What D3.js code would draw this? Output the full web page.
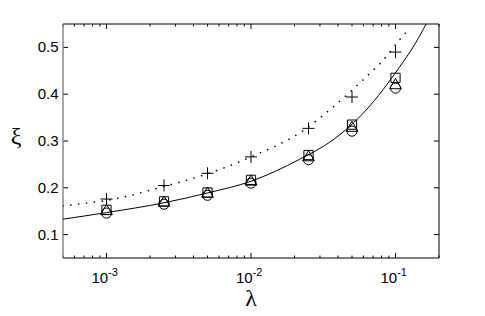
<!DOCTYPE html>
<html>
<head>
<meta charset="utf-8">
<script src="https://cdn.jsdelivr.net/npm/d3@7"></script>
<style>
  body { margin: 0; background: #fff; }
  text { font-family: "Liberation Sans", Arial, sans-serif; }
</style>
</head>
<body>
<div id="my_dataviz"></div>
<script>
// sample points
var lambdas = [1e-3, 2.5e-3, 5e-3, 1e-2, 2.5e-2, 5e-2, 1e-1];
var plusVals = [0.176, 0.205, 0.231, 0.266, 0.327, 0.394, 0.490];
var squareVals = [0.153, 0.171, 0.190, 0.217, 0.270, 0.335, 0.435];
var triangleVals = [0.150, 0.168, 0.187, 0.213, 0.265, 0.328, 0.419];
var circleVals = [0.146, 0.165, 0.184, 0.210, 0.260, 0.321, 0.413];

// curves
var solidX = [5e-4, 1e-3, 2.5e-3, 5e-3, 1e-2, 2.17e-2, 3.68e-2, 6.26e-2, 0.1066, 0.135, 0.163];
var solidY = [0.133, 0.147, 0.168, 0.189, 0.214, 0.261, 0.302, 0.366, 0.458, 0.505, 0.55];
var dotX = [5e-4, 7.08e-4, 1e-3, 2.5e-3, 5e-3, 1e-2, 2.29e-2, 3.68e-2, 6.26e-2, 8.17e-2, 0.1066, 0.125];
var dotY = [0.161, 0.167, 0.173, 0.203, 0.230, 0.266, 0.322, 0.372, 0.437, 0.472, 0.516, 0.540];

var yTicks = [0.1, 0.2, 0.3, 0.4, 0.5];
var xTicks = [1e-3, 1e-2, 1e-1];
var xTickExp = ["-3", "-2", "-1"];

var margin = {top: 24, right: 46, bottom: 58, left: 63},
    width = 485 - margin.left - margin.right,
    height = 316 - margin.top - margin.bottom;

var svg = d3.select("#my_dataviz")
  .append("svg")
    .attr("width", 485)
    .attr("height", 316)
  .append("g")
    .attr("transform", "translate(" + margin.left + "," + margin.top + ")");

var x = d3.scaleLog()
  .domain([5e-4, 0.2])
  .range([0, width]);

var y = d3.scaleLinear()
  .domain([0.05, 0.55])
  .range([height, 0]);

// minor ticks on log axis
var minor = [];
[1e-4, 1e-3, 1e-2, 1e-1].forEach(function(d) {
  for (var k = 1; k <= 9; k++) {
    var v = d * k;
    if (v >= 5e-4 && v <= 0.2) minor.push(v);
  }
});

var ticks = svg.append("g").attr("stroke", "black").attr("stroke-width", 1);
minor.forEach(function(v) {
  var L = (Math.abs(Math.log10(v) - Math.round(Math.log10(v))) < 1e-6) ? 5 : 2.5;
  ticks.append("line").attr("x1", x(v)).attr("x2", x(v)).attr("y1", height).attr("y2", height - L);
  ticks.append("line").attr("x1", x(v)).attr("x2", x(v)).attr("y1", 0).attr("y2", L);
});
yTicks.forEach(function(v) {
  ticks.append("line").attr("x1", 0).attr("x2", 5).attr("y1", y(v)).attr("y2", y(v));
  ticks.append("line").attr("x1", width).attr("x2", width - 5).attr("y1", y(v)).attr("y2", y(v));
});

// box
svg.append("line").attr("x1", 0).attr("x2", width).attr("y1", 0).attr("y2", 0).attr("stroke", "black");
svg.append("line").attr("x1", 0).attr("x2", width).attr("y1", height).attr("y2", height).attr("stroke", "black");
svg.append("line").attr("x1", width).attr("x2", width).attr("y1", 0).attr("y2", height).attr("stroke", "black");
svg.append("line").attr("x1", 0).attr("x2", 0).attr("y1", 0).attr("y2", height)
  .attr("stroke", "#808080").attr("stroke-width", 1.4);

// y tick labels
svg.selectAll("ylab")
  .data(yTicks)
  .enter()
  .append("text")
    .attr("x", -4.5)
    .attr("y", function(d) { return y(d) + 5; })
    .style("text-anchor", "end")
    .style("font-size", "15px")
    .text(function(d) { return d.toFixed(1); });

// x tick labels
xTicks.forEach(function(v, i) {
  var t = svg.append("text")
    .attr("x", x(v) - 15)
    .attr("y", height + 25)
    .style("font-size", "15px");
  t.append("tspan").text("10");
  t.append("tspan").attr("dy", -7).style("font-size", "11px").text(xTickExp[i]);
});

// axis labels
svg.append("text")
  .attr("x", width / 2)
  .attr("y", height + 48)
  .style("text-anchor", "middle")
  .style("font-family", "'Liberation Serif', 'DejaVu Serif', serif")
  .style("font-size", "24px")
  .text("λ");

svg.append("text")
  .attr("x", 16 - margin.left)
  .attr("y", height / 2 + 3)
  .style("text-anchor", "middle")
  .style("font-family", "'Liberation Serif', 'DejaVu Serif', serif")
  .style("font-size", "24px")
  .text("ξ");

var plot = svg.append("g");
plot.append("clipPath").attr("id", "clip")
  .append("rect").attr("width", width).attr("height", height);

var line = d3.line()
  .x(function(d) { return x(d[0]); })
  .y(function(d) { return y(d[1]); })
  .curve(d3.curveMonotoneX);

plot.append("path")
  .datum(solidX.map(function(d, i) { return [d, solidY[i]]; }))
  .attr("clip-path", "url(#clip)")
  .attr("d", line)
  .attr("fill", "none")
  .attr("stroke", "black")
  .attr("stroke-width", 1);

plot.append("path")
  .datum(dotX.map(function(d, i) { return [d, dotY[i]]; }))
  .attr("clip-path", "url(#clip)")
  .attr("d", line)
  .attr("fill", "none")
  .attr("stroke", "black")
  .attr("stroke-width", 1.6)
  .attr("stroke-linecap", "round")
  .attr("stroke-dasharray", "0.1,7.8");

// markers
function markers(vals, type, size, cls) {
  plot.selectAll("." + cls)
    .data(lambdas.map(function(d, i) { return [d, vals[i]]; }))
    .enter()
    .append("path")
      .attr("class", cls)
      .attr("transform", function(d) { return "translate(" + x(d[0]) + "," + y(d[1]) + ")"; })
      .attr("d", d3.symbol().type(type).size(size))
      .attr("fill", "none")
      .attr("stroke", "black")
      .attr("stroke-width", 1);
}
markers(circleVals, d3.symbolCircle, 80, "circ");
markers(triangleVals, d3.symbolTriangle, 60, "tri");
markers(squareVals, d3.symbolSquare, 85, "sq");

plot.selectAll(".plus")
  .data(lambdas.map(function(d, i) { return [d, plusVals[i]]; }))
  .enter()
  .append("path")
    .attr("class", "plus")
    .attr("transform", function(d) { return "translate(" + x(d[0]) + "," + y(d[1]) + ")"; })
    .attr("d", "M-6,0H6M0,-6V6")
    .attr("stroke", "black")
    .attr("stroke-width", 1);
</script>
</body>
</html>
